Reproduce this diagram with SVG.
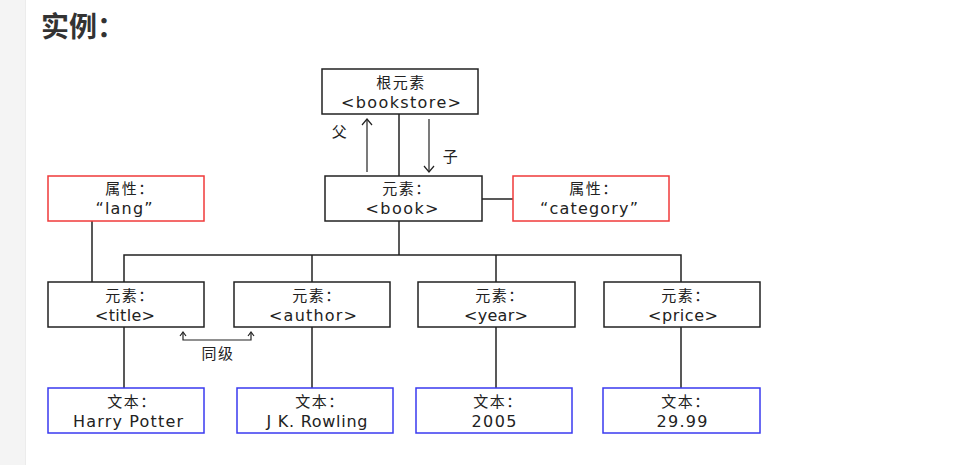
<svg xmlns="http://www.w3.org/2000/svg" width="967" height="465" viewBox="0 0 967 465">
<style>
.bg{fill:#ffffff}
.strip{fill:#f4f4f4}
.box{fill:#ffffff;stroke:#222;stroke-width:1.5}
.attr{fill:#ffffff;stroke:#f03a3a;stroke-width:1.5}
.txt{fill:#ffffff;stroke:#3a3af0;stroke-width:1.5}
.ln{fill:none;stroke:#222;stroke-width:1.5}
.arr{fill:none;stroke:#222;stroke-width:1.2}
text{font-family:"DejaVu Sans","Noto Sans CJK SC",sans-serif;font-size:16px;fill:#222;text-anchor:middle}
.cn{font-family:"Noto Sans CJK SC",sans-serif;font-size:15px;letter-spacing:1.5px}
.h{font-family:"Noto Sans CJK SC",sans-serif;font-size:28px;font-weight:bold;fill:#333;text-anchor:start;letter-spacing:0}
</style>
<rect class="bg" x="0" y="0" width="967" height="465"/>
<rect class="strip" x="0" y="0" width="25" height="465"/>
<line x1="25.5" y1="0" x2="25.5" y2="465" stroke="#ececec" stroke-width="1"/>
<text class="h" x="41" y="37">实例：</text>

<g id="connectors">
<line class="ln" x1="399" y1="114" x2="399" y2="176"/>
<line class="ln" x1="482" y1="199" x2="513" y2="199"/>
<line class="ln" x1="92" y1="221" x2="92" y2="282"/>
<line class="ln" x1="399" y1="221" x2="399" y2="255"/>
<polyline class="ln" points="124,282 124,255 681,255 681,282"/>
<line class="ln" x1="312" y1="255" x2="312" y2="282"/>
<line class="ln" x1="496" y1="255" x2="496" y2="282"/>
<line class="ln" x1="124" y1="327" x2="124" y2="388"/>
<line class="ln" x1="312" y1="327" x2="312" y2="388"/>
<line class="ln" x1="496" y1="327" x2="496" y2="388"/>
<line class="ln" x1="681" y1="327" x2="681" y2="388"/>
<line class="arr" x1="367" y1="172" x2="367" y2="119"/>
<path class="arr" d="M362,125 L367,119 L372,125"/>
<line class="arr" x1="429" y1="119" x2="429" y2="172"/>
<path class="arr" d="M424,166 L429,172 L434,166"/>
<polyline class="arr" points="183,333 183,340 251,340 251,333"/>
<path class="arr" d="M180,336 L183,332 L186,336 M248,336 L251,332 L254,336"/>
<text class="cn" x="340" y="137">父</text>
<text class="cn" x="451" y="162">子</text>
<text class="cn" x="218" y="359">同级</text>
</g>

<g id="bookstore">
<rect class="box" x="322" y="69" width="156" height="45"/>
<text class="cn" x="401" y="88">根元素</text>
<text x="401" y="108" textLength="120" lengthAdjust="spacing">&lt;bookstore&gt;</text>
</g>
<g id="book">
<rect class="box" x="325" y="176" width="157" height="45"/>
<text class="cn" x="407" y="194">元素：</text>
<text x="402" y="214" textLength="73" lengthAdjust="spacing">&lt;book&gt;</text>
</g>
<g id="lang">
<rect class="attr" x="48" y="176" width="156" height="45"/>
<text class="cn" x="130" y="194">属性：</text>
<text x="124" y="214" textLength="57" lengthAdjust="spacing">“lang”</text>
</g>
<g id="category">
<rect class="attr" x="513" y="176" width="156" height="45"/>
<text class="cn" x="594" y="194">属性：</text>
<text x="589" y="214" textLength="98" lengthAdjust="spacing">“category”</text>
</g>
<g id="title">
<rect class="box" x="48" y="282" width="156" height="45"/>
<text class="cn" x="130" y="301">元素：</text>
<text x="125" y="321" textLength="60" lengthAdjust="spacing">&lt;title&gt;</text>
</g>
<g id="author">
<rect class="box" x="234" y="282" width="156" height="45"/>
<text class="cn" x="317" y="301">元素：</text>
<text x="313" y="321" textLength="88" lengthAdjust="spacing">&lt;author&gt;</text>
</g>
<g id="year">
<rect class="box" x="418" y="282" width="157" height="45"/>
<text class="cn" x="500" y="301">元素：</text>
<text x="496" y="321" textLength="64" lengthAdjust="spacing">&lt;year&gt;</text>
</g>
<g id="price">
<rect class="box" x="604" y="282" width="156" height="45"/>
<text class="cn" x="686" y="301">元素：</text>
<text x="683" y="321" textLength="70" lengthAdjust="spacing">&lt;price&gt;</text>
</g>
<g id="text-harry">
<rect class="txt" x="48" y="388" width="156" height="45"/>
<text class="cn" x="132" y="407">文本：</text>
<text x="128" y="427" textLength="110" lengthAdjust="spacing">Harry Potter</text>
</g>
<g id="text-rowling">
<rect class="txt" x="237" y="388" width="156" height="45"/>
<text class="cn" x="320" y="407">文本：</text>
<text x="317" y="427" textLength="101" lengthAdjust="spacing">J K. Rowling</text>
</g>
<g id="text-2005">
<rect class="txt" x="416" y="388" width="156" height="45"/>
<text class="cn" x="498" y="407">文本：</text>
<text x="494" y="427" textLength="45" lengthAdjust="spacing">2005</text>
</g>
<g id="text-price">
<rect class="txt" x="603" y="388" width="157" height="45"/>
<text class="cn" x="686" y="407">文本：</text>
<text x="682" y="427" textLength="51" lengthAdjust="spacing">29.99</text>
</g>
</svg>
